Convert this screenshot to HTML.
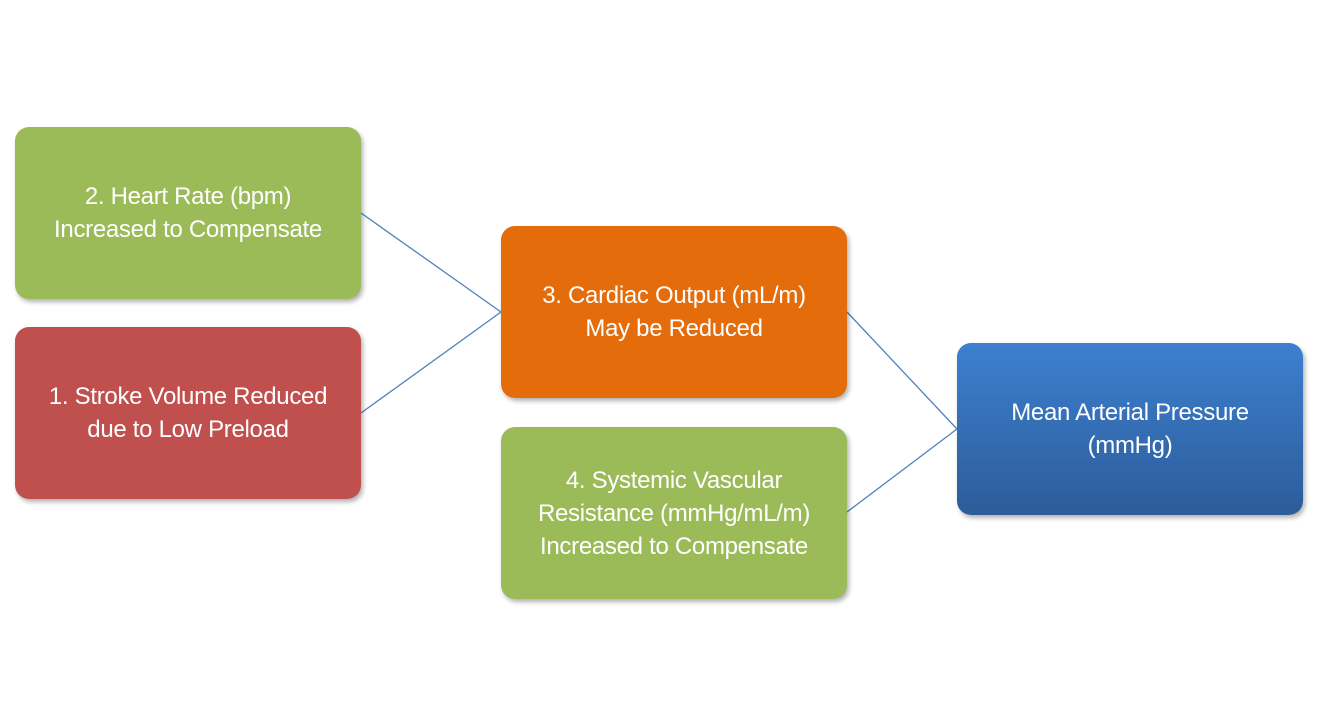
<!DOCTYPE html>
<html><head><meta charset="utf-8"><style>
body{margin:0;width:1334px;height:726px;background:#fff;position:relative;overflow:hidden;font-family:"Liberation Sans",sans-serif}
.b{position:absolute;width:346px;height:172px;border-radius:14px;color:#fff;font-size:24px;line-height:33px;display:flex;align-items:center;justify-content:center;text-align:center;box-shadow:2px 3px 5px rgba(0,0,0,0.3);letter-spacing:-0.3px}
.g{background:#9BBB59}.r{background:#C0504D}.o{background:#E46C0A}
.bl{background:linear-gradient(#3D80D0,#2C5C99)}
svg{position:absolute;left:0;top:0}
</style></head><body>
<svg width="1334" height="726"><g stroke="#4F81BD" stroke-width="1.3" fill="none">
<line x1="361" y1="213" x2="501" y2="312"/><line x1="361" y1="413" x2="501" y2="312"/>
<line x1="847" y1="312" x2="957" y2="429"/><line x1="847" y1="512" x2="957" y2="429"/></g></svg>
<div class="b g" style="left:15px;top:127px">2. Heart Rate (bpm)<br>Increased to Compensate</div>
<div class="b r" style="left:15px;top:327px">1. Stroke Volume Reduced<br>due to Low Preload</div>
<div class="b o" style="left:501px;top:226px">3. Cardiac Output (mL/m)<br>May be Reduced</div>
<div class="b g" style="left:501px;top:427px">4. Systemic Vascular<br>Resistance (mmHg/mL/m)<br>Increased to Compensate</div>
<div class="b bl" style="left:957px;top:343px">Mean Arterial Pressure<br>(mmHg)</div>
</body></html>
